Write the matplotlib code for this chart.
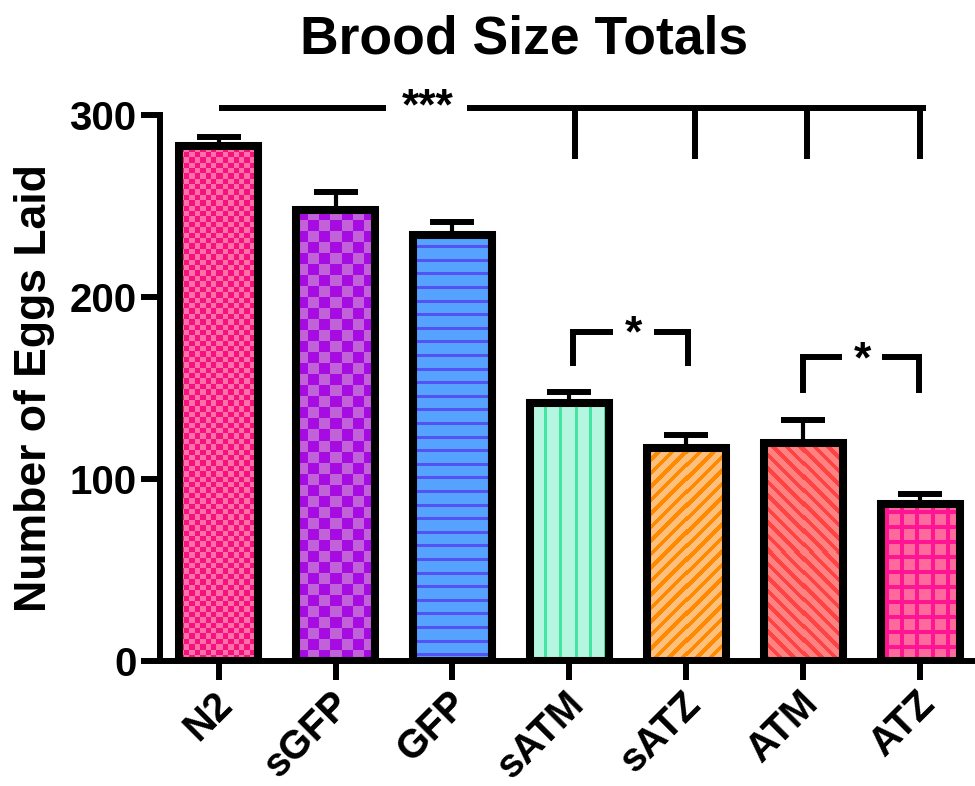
import numpy as np
import matplotlib
matplotlib.use("Agg")
import matplotlib.pyplot as plt
from matplotlib.colors import to_rgb
from matplotlib.transforms import ScaledTranslation

# ---------------- data ----------------
categories = ["N2", "sGFP", "GFP", "sATM", "sATZ", "ATM", "ATZ"]
means = [283, 248, 234, 142, 117, 120, 86]
errors = [5, 9.5, 7, 6, 7, 12.5, 5.5]
yticks = [0, 100, 200, 300]

# fill patterns: (kind, base colour, accent colour)
patterns = [
    ("checker_small", "#F5127E", "#FF6FA8"),
    ("checker_big", "#A60BE2", "#C262D8"),
    ("hlines", "#55A2FF", "#5252F5"),
    ("vlines", "#B4F6E0", "#42E6A2"),
    ("diag_up", "#FFC07E", "#FF8A00"),
    ("diag_down", "#FF8282", "#FF4242"),
    ("grid", "#FF6A9C", "#FF1493"),
]

# significance annotations
top_line_y = 304
top_line_x = [0, 6.02]
top_drops_x = [3.05, 4.07, 5.03, 6.0]
top_drop_bottom = 276
top_label_x = 1.79
brackets = [  # (x_left, x_right, y_top, y_bottom, star_x)
    (3.03, 4.01, 181, 164, 3.55),
    (5.0, 5.99, 167, 149, 5.5),
]

plt.rcParams['font.family'] = ['Liberation Sans', 'DejaVu Sans']
plt.rcParams['font.weight'] = 'bold'

fig = plt.figure(figsize=(9.75, 7.86), dpi=100)
ax = fig.add_axes([160 / 975, 1 - 661 / 786, (979 - 160) / 975, (661 - 115) / 786])
ax.set_xlim(-0.5, 6.5)
ax.set_ylim(0, 300)

x = np.arange(len(categories))
width = 0.67


def pattern_array(kind, base, acc, nx, ny, ox, oy):
    ii = np.arange(nx)[None, :] + ox
    jj = np.arange(ny)[:, None] + oy
    if kind == "checker_small":
        s = 5.4
        m = ((np.floor(ii / s) + np.floor(jj / s)) % 2) == 1
    elif kind == "checker_big":
        s = 11
        m = ((np.floor(ii / s) + np.floor(jj / s)) % 2) == 1
    elif kind == "hlines":
        m = (jj % 13.6) < 3
    elif kind == "vlines":
        m = (ii % 14.7) < 3
    elif kind == "diag_up":
        m = ((ii + jj) % 13.5) < 5.5
    elif kind == "diag_down":
        m = ((ii - jj) % 13.5) < 5.5
    else:  # grid
        m = ((ii % 15) < 4) | ((jj % 15) < 4)
    m = np.broadcast_to(m, (ny, nx))
    b = np.array(to_rgb(base))
    a = np.array(to_rgb(acc))
    img = np.where(m[..., None], a, b)
    return img


fig.canvas.draw()
bars = ax.bar(x, means, width=width, color="none", edgecolor="black",
              linewidth=5.8, zorder=3)
for xi, h, bar, (kind, base, acc) in zip(x, means, bars, patterns):
    p0 = ax.transData.transform((xi - width / 2, 0))
    p1 = ax.transData.transform((xi + width / 2, h))
    nx = int(round(p1[0] - p0[0]))
    ny = int(round(p1[1] - p0[1]))
    img = pattern_array(kind, base, acc, nx, ny, int(p0[0]), int(786 - p1[1]))
    im = ax.imshow(img, extent=(xi - width / 2, xi + width / 2, 0, h),
                   aspect="auto", interpolation="nearest", zorder=2)
    im.set_clip_path(bar)

ax.errorbar(x, means, yerr=[np.zeros(len(errors)), errors], fmt="none",
            ecolor="black", elinewidth=3, capsize=15.5, capthick=4.3, zorder=2.5)

ax.set_xlim(-0.5, 6.5)
ax.set_ylim(0, 300)

for side in ["top", "right"]:
    ax.spines[side].set_visible(False)
for side in ["left", "bottom"]:
    ax.spines[side].set_linewidth(4.3)
ax.tick_params(axis="both", width=4.3, length=14, direction="out")
ax.tick_params(axis="y", pad=3, labelsize=29)
ax.tick_params(axis="x", pad=3, labelsize=28.5)
ax.set_yticks(yticks)
ax.set_xticks(x)
ax.set_xticklabels(categories, rotation=45, ha="right", rotation_mode="anchor",
                   fontweight="bold")
offset = ScaledTranslation(-5 / 100, 0, fig.dpi_scale_trans)
for lab in ax.get_xticklabels():
    lab.set_transform(lab.get_transform() + offset)
for lab in ax.get_yticklabels():
    lab.set_fontweight("bold")

ax.set_ylabel("Number of Eggs Laid", fontsize=32, fontweight="bold", labelpad=10)
fig.suptitle("Brood Size Totals", fontsize=38.5, fontweight="bold", x=0.538, y=0.982)

# significance annotations
lw = 4.3
ax.plot([top_line_x[0], top_label_x - 0.36], [top_line_y] * 2, color="black",
        lw=lw, clip_on=False, solid_capstyle="butt")
ax.plot([top_label_x + 0.36, top_line_x[1]], [top_line_y] * 2, color="black",
        lw=lw, clip_on=False, solid_capstyle="projecting")
for dx in top_drops_x:
    ax.plot([dx, dx], [top_line_y, top_drop_bottom], color="black", lw=lw,
            clip_on=False, solid_capstyle="butt")
ax.text(top_label_x, top_line_y, "***", ha="center", va="center", fontsize=32,
        fontweight="bold")

for xl, xr, yt, yb, sx in brackets:
    ax.plot([xl, xl, sx - 0.2], [yb, yt, yt], color="black", lw=lw,
            clip_on=False, solid_joinstyle="miter")
    ax.plot([sx + 0.2, xr, xr], [yt, yt, yb], color="black", lw=lw,
            clip_on=False, solid_joinstyle="miter")
    ax.text(sx, yt - 2, "*", ha="center", va="center", fontsize=32,
            fontweight="bold")

fig.savefig("out.png", dpi=100)
